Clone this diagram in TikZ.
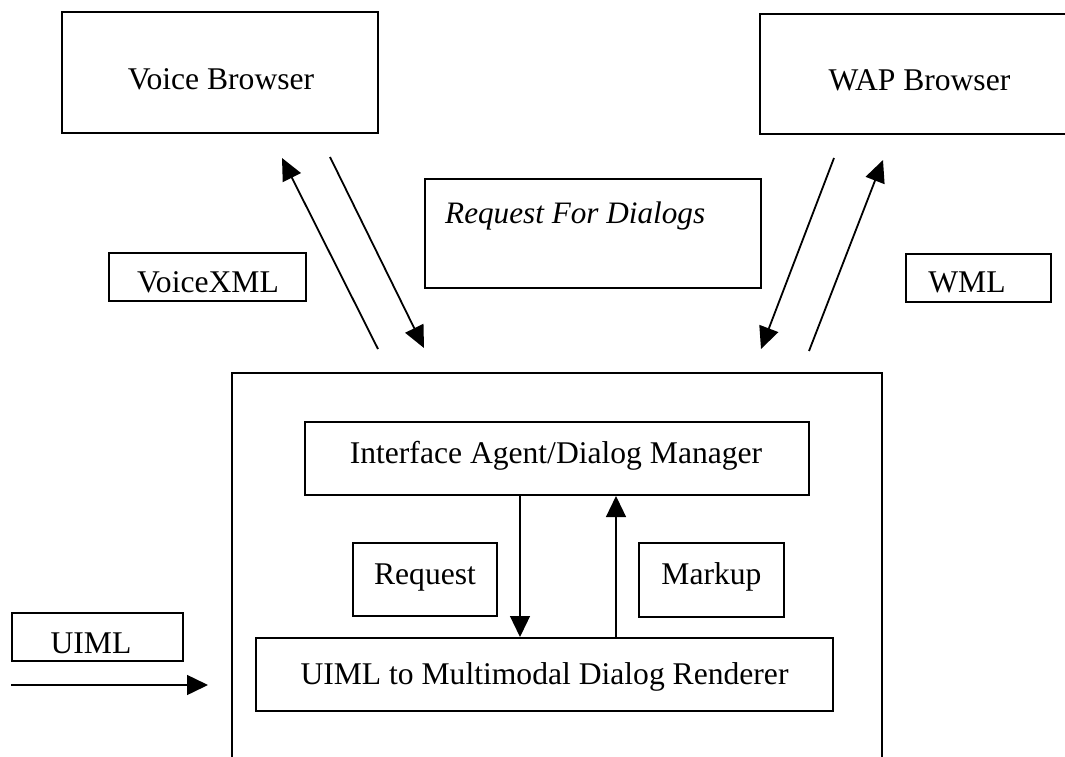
\documentclass[tikz,border=0pt]{standalone}
\usepackage{fontspec}
\setmainfont{Liberation Serif}
\usetikzlibrary{arrows.meta}
\begin{document}
\begin{tikzpicture}[x=1pt,y=-1pt,
  box/.style={draw, line width=2pt, inner sep=0pt, rectangle, anchor=center},
  lbl/.style={anchor=base, inner sep=0pt, font=\fontsize{31.6}{38}\selectfont},
  link/.style={line width=1.8pt, -{Triangle[length=22pt,width=20pt]}},
  flow/.style={line width=1.3pt, -{Triangle[length=21pt,width=20pt]}}]
\useasboundingbox (0,0) rectangle (1065,757);
\fill[white] (0,0) rectangle (1065,757);

% browsers and message labels
\node[box, minimum width=316pt, minimum height=121pt] (voice) at (220,72.5) {};
\node[box, minimum width=319pt, minimum height=120pt] (wap) at (919.5,74) {};
\node[box, minimum width=336pt, minimum height=109pt] (rfd) at (593,233.5) {};
\node[box, minimum width=197pt, minimum height=48pt] (vxml) at (207.5,277) {};
\node[box, minimum width=145pt, minimum height=48pt] (wml) at (978.5,278) {};
\node[box, minimum width=171pt, minimum height=48pt] (uiml) at (97.5,637) {};

% server with its two components
\node[box, minimum width=650pt, minimum height=387pt] (server) at (557,566.5) {};
\node[box, minimum width=504pt, minimum height=73pt] (iface) at (557,458.5) {};
\node[box, minimum width=144pt, minimum height=73pt] (req) at (425,579.5) {};
\node[box, minimum width=145pt, minimum height=74pt] (markup) at (711.5,580) {};
\node[box, minimum width=577pt, minimum height=73pt] (render) at (544.5,674.5) {};

% texts
\node[lbl] (voicetxt) at (221,90) {Voice Browser};
\node[lbl] (waptxt) at (919.5,91) {WAP Browser};
\node[lbl, anchor=base west, font=\fontsize{31.2}{38}\selectfont\itshape] (rfdtxt) at (445,223) {Request For Dialogs};
\node[lbl] (vxmltxt) at (208,292) {VoiceXML};
\node[lbl] (wmltxt) at (967,292) {WML};
\node[lbl] (uimltxt) at (91,653) {UIML};
\node[lbl] (ifacetxt) at (556,463) {Interface Agent/Dialog Manager};
\node[lbl] (reqtxt) at (425,584) {Request};
\node[lbl] (markuptxt) at (711.5,584) {Markup};
\node[lbl] (rendertxt) at (544.5,684) {UIML to Multimodal Dialog Renderer};

% ends of the slanted connectors
\coordinate (vbinTail) at (378,349);
\coordinate (vbinTip) at (282,158);
\coordinate (vboutTail) at (330,157);
\coordinate (vboutTip) at (424,348);
\coordinate (wapoutTail) at (834,158);
\coordinate (wapoutTip) at (761,349);
\coordinate (wapinTail) at (809,351);
\coordinate (wapinTip) at (883,160);
\coordinate (uimlTail) at (11,685);
\coordinate (uimlTip) at (208,685);

\draw[link] (vbinTail) -- (vbinTip);
\draw[link] (vboutTail) -- (vboutTip);
\draw[link] (wapoutTail) -- (wapoutTip);
\draw[link] (wapinTail) -- (wapinTip);
\draw[flow, line width=1.5pt] (uimlTail) -- (uimlTip);

% request down, markup up
\draw[flow] ([xshift=-37pt]iface.south) -- ([xshift=-37pt]iface.south |- render.north);
\draw[flow] ([xshift=59pt]iface.south |- render.north) -- ([xshift=59pt]iface.south);
\end{tikzpicture}
\end{document}
